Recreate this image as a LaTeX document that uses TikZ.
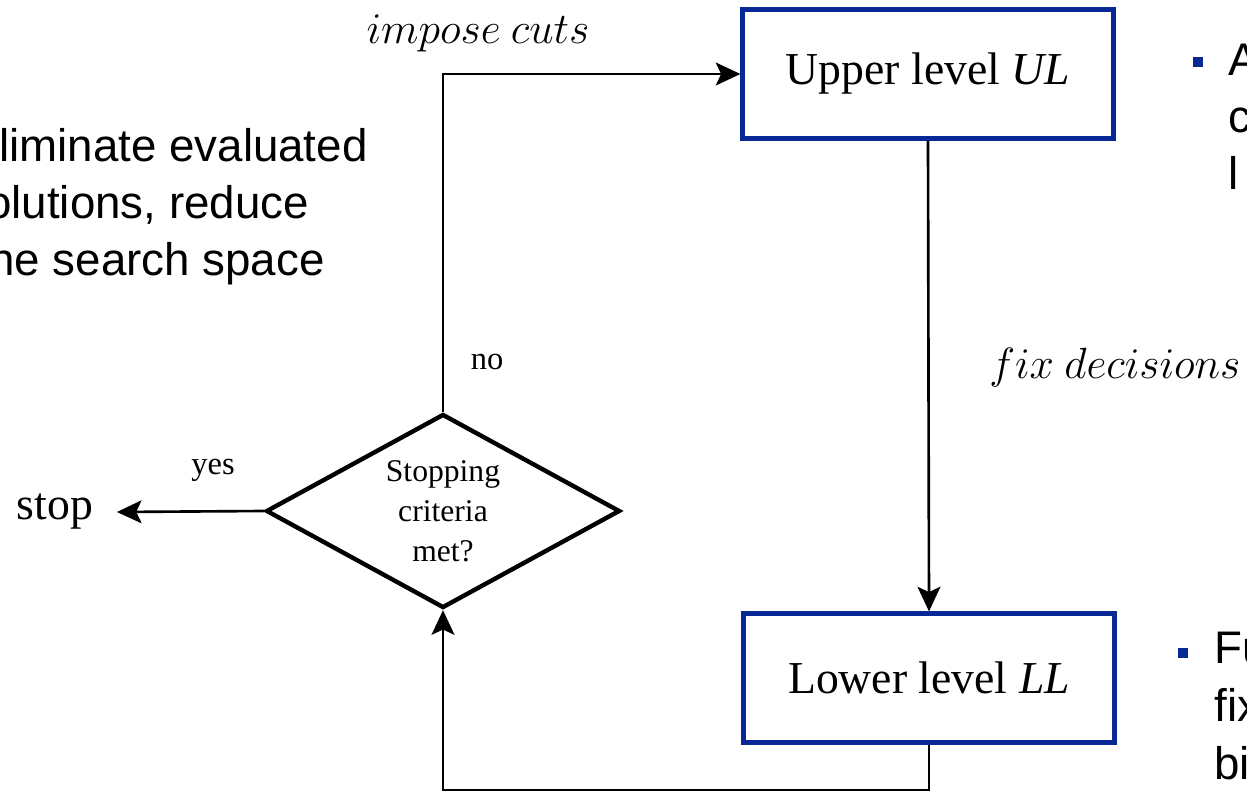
\documentclass[tikz,border=0pt]{standalone}
\usepackage{fontspec}
\setmainfont{Liberation Serif}
\setsansfont{Liberation Sans}
\usepackage{xcolor}
\usepackage{tikz}
\usetikzlibrary{arrows.meta}
\usetikzlibrary{shapes.geometric}
\definecolor{boxblue}{RGB}{8,40,150}
\tikzset{
    level_box/.style = {rectangle, draw=boxblue, line width=2.4pt, minimum width=7.42cm, minimum height=2.58cm, font=\fontsize{26}{30}\selectfont},
    test_node/.style = {diamond, draw=black, line width=2.5pt, aspect=1.8, inner sep=0pt, minimum width=7.08cm, minimum height=3.88cm, align=center, font=\fontsize{18}{22.7}\selectfont},
    end_node/.style = {inner xsep=0.47cm, font=\fontsize{26}{30}\selectfont},
    flow/.style = {line width=1.5pt},
    math_label/.style = {font=\fontsize{23.5}{28}\selectfont},
    small_label/.style = {font=\fontsize{18.5}{22}\selectfont},
    slide_text/.style = {anchor=base west, inner sep=0pt, font=\sffamily\fontsize{26}{32}\selectfont},
    bullet/.style = {rectangle, fill=boxblue, minimum size=0.2cm, inner sep=0pt}
}

\begin{document}
\begin{tikzpicture}
    [x=0.02cm, y=-0.02cm,
    >={Stealth[length=14pt, width=13pt, inset=3pt]}]
    \useasboundingbox (0,0) rectangle (1247,793);

    \node [level_box] (upper) at (928,74) {Upper level \textit{UL}};
    \node [level_box] (lower) at (929,678) {Lower level \textit{LL}};
    \node [test_node] (test) at (443,511) {Stopping\\criteria\\met?};
    \node [end_node] (stop) at (55,512) {stop};
    \coordinate (bottom_turn) at (443,790);

    \draw [flow, ->] (test.north) |- (upper.west);
    \draw [flow, ->] (upper.south) -- (lower.north);
    \draw [flow, ->] (test.west) -- (stop.east);
    \draw [flow, ->] (lower.south) |- (bottom_turn) -- (test.south);

    \node [math_label] (cuts) at (478,33) {$impose\ cuts$};
    \node [math_label] (fix) at (1115,368) {$fix\ decisions$};
    \node [small_label] (no) at (487,362) {no};
    \node [small_label] (yes) at (213,470) {yes};

    % slide text, cut at the edges
    \node [slide_text] (elim_a) at (-1,162) {liminate evaluated};
    \node [slide_text] (elim_b) at (-14,219) {olutions, reduce};
    \node [slide_text] (elim_c) at (-11,276) {he search space};

    \node [bullet] (dot_up) at (1198,62) {};
    \node [slide_text] (up_a) at (1228,76) {A};
    \node [slide_text] (up_b) at (1228,133) {c};
    \node [slide_text] (up_c) at (1228,190) {l};

    \node [bullet] (dot_low) at (1183,653) {};
    \node [slide_text] (low_a) at (1214,663) {Fu};
    \node [slide_text] (low_b) at (1214,721) {fix};
    \node [slide_text] (low_c) at (1214,779) {bi};
\end{tikzpicture}
\end{document}
